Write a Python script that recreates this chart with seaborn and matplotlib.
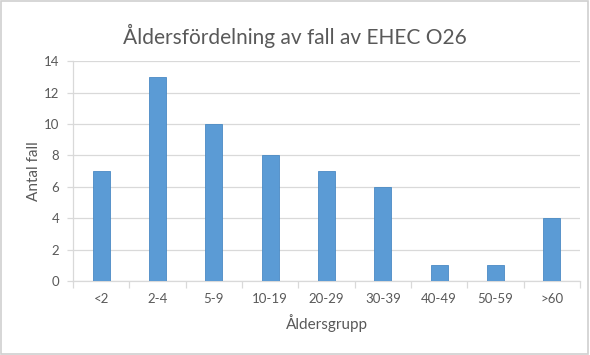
import matplotlib.pyplot as plt
import numpy as np
import pandas as pd
import seaborn as sns
from matplotlib.patches import Rectangle

# data
age_groups = ["<2", "2-4", "5-9", "10-19", "20-29", "30-39", "40-49", "50-59", ">60"]
cases = [7, 13, 10, 8, 7, 6, 1, 1, 4]

sns.set_theme(style="white")
plt.rcParams['font.family'] = ['Lato', 'DejaVu Sans']

TXT = "#595959"
GRID = "#D9D9D9"
BAR = "#5B9BD5"

df = pd.DataFrame({"group": age_groups, "cases": cases})

fig = plt.figure(figsize=(5.9, 3.55), dpi=100)
ax = fig.add_axes([0.124, 0.2085, 0.859, 0.619])

sns.barplot(data=df, x="group", y="cases", color=BAR, width=0.3,
            edgecolor="#4A8AC4", linewidth=0.6, saturation=1, ax=ax, zorder=3)

ax.set_ylim(0, 14)
ax.set_yticks(np.arange(0, 15, 2))
ax.set_xlim(-0.5, len(age_groups) - 0.5)
ax.yaxis.grid(True, color=GRID, linewidth=0.9, zorder=0)

# category boundary ticks on the x axis
ax.set_xticks(np.arange(-0.5, len(age_groups), 1), minor=True)
ax.tick_params(axis="x", which="major", length=0, labelsize=9.5, colors=TXT, pad=9)
ax.tick_params(axis="x", which="minor", length=5, width=0.9, color=GRID, direction="out")
ax.tick_params(axis="y", length=4, width=0.9, color=GRID, labelsize=9.5, labelcolor=TXT, pad=6)
ax.xaxis.set_ticks_position("bottom")
ax.yaxis.set_ticks_position("left")

for s in ["top", "right"]:
    ax.spines[s].set_visible(False)
for s in ["left", "bottom"]:
    ax.spines[s].set_color(GRID)
    ax.spines[s].set_linewidth(0.9)

ax.set_xlabel("Åldersgrupp", fontsize=11, color=TXT, labelpad=6)
ax.set_ylabel("Antal fall", fontsize=11, color=TXT, labelpad=2)

fig.text(0.5, 0.9, "Åldersfördelning av fall av EHEC O26", ha="center", va="center",
         fontsize=15, color=TXT)

# thin grey frame around the chart
fig.patches.append(Rectangle((0.002, 0.003), 0.995, 0.994, transform=fig.transFigure,
                             fill=False, edgecolor="#D0D0D0", linewidth=1.2))

fig.savefig("out.png", dpi=100)
